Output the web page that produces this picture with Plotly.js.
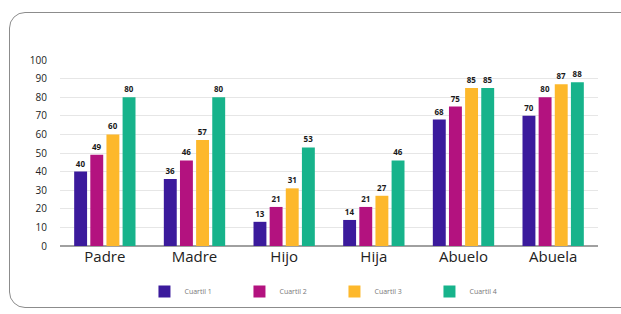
<!DOCTYPE html>
<html>
<head>
<meta charset="utf-8">
<script src="https://cdn.plot.ly/plotly-3.0.1.min.js"></script>
<style>
html,body{margin:0;padding:0;background:#fff;overflow:hidden;}
#frame{position:absolute;left:9px;top:12px;width:640px;height:296px;border:1.6px solid #8c8c8c;border-radius:16px;box-sizing:border-box;}
#chart{position:absolute;left:0;top:0;width:621px;height:314px;}
</style>
</head>
<body>
<div id="frame"></div>
<div id="chart"></div>
<script>
const categories = ["Padre", "Madre", "Hijo", "Hija", "Abuelo", "Abuela"];
const seriesNames = ["Cuartil 1", "Cuartil 2", "Cuartil 3", "Cuartil 4"];
const cuartil1 = [40, 36, 13, 14, 68, 70];
const cuartil2 = [49, 46, 21, 21, 75, 80];
const cuartil3 = [60, 57, 31, 27, 85, 87];
const cuartil4 = [80, 80, 53, 46, 85, 88];
const yTicks = [0, 10, 20, 30, 40, 50, 60, 70, 80, 90, 100];

const colors = ["#3b1a9c", "#b3127f", "#fdb82b", "#17b38b"];
const series = [cuartil1, cuartil2, cuartil3, cuartil4];

const traces = series.map((vals, i) => ({
  type: "bar",
  name: seriesNames[i],
  x: categories,
  y: vals,
  text: vals.map(String),
  textposition: "outside",
  cliponaxis: false,
  textfont: {family: "Open Sans, sans-serif", size: 8, color: "#1a1a1a", weight: 700},
  marker: {color: colors[i]},
  hoverinfo: "none"
}));

const layout = {
  width: 621,
  height: 314,
  margin: {l: 60, r: 23, t: 60, b: 68, autoexpand: false},
  paper_bgcolor: "rgba(0,0,0,0)",
  plot_bgcolor: "rgba(0,0,0,0)",
  barmode: "group",
  bargap: 0.28,
  bargroupgap: 0.2,
  font: {family: "Open Sans, sans-serif", color: "#222"},
  showlegend: true,
  legend: {
    orientation: "h",
    x: 0.157,
    xanchor: "left",
    y: -0.245,
    yanchor: "middle",
    entrywidth: 50,
    entrywidthmode: "pixels",
    font: {size: 7, color: "#777"},
    itemclick: false,
    itemdoubleclick: false
  },
  xaxis: {
    type: "category",
    tickfont: {size: 15, color: "#222"},
    showgrid: false,
    showline: false,
    ticks: "",
    zeroline: false
  },
  yaxis: {
    range: [0, 100],
    tickvals: yTicks,
    ticktext: yTicks.map(String),
    tickfont: {size: 10, color: "#222"},
    ticks: "outside",
    ticklen: 10,
    tickcolor: "rgba(0,0,0,0)",
    showgrid: true,
    gridcolor: "#e6e6e6",
    gridwidth: 1,
    zeroline: true,
    zerolinecolor: "#a0a0a0",
    zerolinewidth: 1.2,
    showline: false
  }
};

Plotly.newPlot("chart", traces, layout, {staticPlot: true, displayModeBar: false});
</script>
</body>
</html>
